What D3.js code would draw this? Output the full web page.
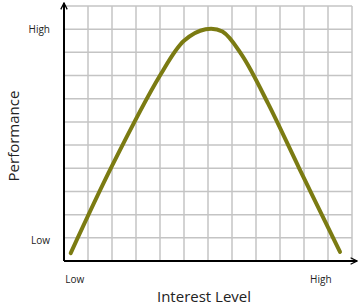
<!DOCTYPE html>
<html>
<head>
<meta charset="utf-8">
<script src="https://cdn.jsdelivr.net/npm/d3@7"></script>
<style>
  body { margin: 0; background: #fff; }
  text { font-family: "Open Sans", "Noto Sans", sans-serif; fill: #222; }
</style>
</head>
<body>
<div id="chart"></div>
<script>
// curve, in grid units (12 columns x 11 rows)
let curveX = [0.28, 2.0, 4.0, 5.0, 5.9, 6.6, 7.4, 8.5, 9.8, 11.5],
    curveY = [0.34, 4.1, 8.0, 9.5, 10.0, 9.9, 8.9, 6.8, 4.0, 0.39];

let xTickValues = [0.45, 10.7],
    xTickLabels = ["Low", "High"],
    yTickValues = [0.9, 10],
    yTickLabels = ["Low", "High"];

let width = 361, height = 306,
    margin = { top: 6, right: 9, bottom: 45, left: 64 },
    innerW = width - margin.left - margin.right,
    innerH = height - margin.top - margin.bottom;

let svg = d3.select("#chart").append("svg").attr("width", width).attr("height", height),
    g = svg.append("g").attr("transform", `translate(${margin.left},${margin.top})`);

let x = d3.scaleLinear().domain([0, 12]).range([0, innerW]),
    y = d3.scaleLinear().domain([0, 11]).range([innerH, 0]);

// grid
g.append("g")
    .selectAll("line")
    .data(d3.range(1, 13))
    .join("line")
    .attr("x1", d => x(d)).attr("x2", d => x(d))
    .attr("y1", 0).attr("y2", innerH)
    .attr("stroke", "#c4c4c4").attr("stroke-width", 1.5);

g.append("g")
    .selectAll("line")
    .data(d3.range(1, 12))
    .join("line")
    .attr("x1", 0).attr("x2", innerW)
    .attr("y1", d => y(d)).attr("y2", d => y(d))
    .attr("stroke", "#c4c4c4").attr("stroke-width", 1.5);

// arrow marker
svg.append("defs").append("marker")
    .attr("id", "arrow")
    .attr("viewBox", "0 0 10 10")
    .attr("refX", 9).attr("refY", 5)
    .attr("markerWidth", 8).attr("markerHeight", 8)
    .attr("markerUnits", "userSpaceOnUse")
    .attr("orient", "auto")
    .append("path")
    .attr("d", "M1,1 L9,5 L1,9")
    .attr("fill", "none")
    .attr("stroke", "#000")
    .attr("stroke-width", 1.6);

// axes
g.append("line")
    .attr("x1", 0).attr("y1", innerH)
    .attr("x2", innerW + 5).attr("y2", innerH)
    .attr("stroke", "#000").attr("stroke-width", 2)
    .attr("marker-end", "url(#arrow)");

g.append("line")
    .attr("x1", 0).attr("y1", innerH)
    .attr("x2", 0).attr("y2", -3)
    .attr("stroke", "#000").attr("stroke-width", 2)
    .attr("marker-end", "url(#arrow)");

// curve
let line = d3.line()
    .x(d => x(d[0]))
    .y(d => y(d[1]))
    .curve(d3.curveCatmullRom.alpha(0.5));

g.append("path")
    .datum(d3.zip(curveX, curveY))
    .attr("fill", "none")
    .attr("stroke", "#7b7b12")
    .attr("stroke-width", 4)
    .attr("stroke-linecap", "round")
    .attr("d", line);

// tick labels
g.append("g")
    .selectAll("text")
    .data(yTickValues)
    .join("text")
    .attr("x", -14)
    .attr("y", d => y(d))
    .attr("dy", "0.35em")
    .attr("text-anchor", "end")
    .style("font-size", "10px")
    .text((d, i) => yTickLabels[i]);

g.append("g")
    .selectAll("text")
    .data(xTickValues)
    .join("text")
    .attr("x", d => x(d))
    .attr("y", innerH + 22)
    .attr("text-anchor", "middle")
    .style("font-size", "10px")
    .text((d, i) => xTickLabels[i]);

// axis titles
svg.append("text")
    .attr("x", 204)
    .attr("y", 302)
    .attr("text-anchor", "middle")
    .style("font-size", "15px")
    .text("Interest Level");

svg.append("text")
    .attr("transform", "translate(19,136) rotate(-90)")
    .attr("text-anchor", "middle")
    .style("font-size", "15px")
    .text("Performance");
</script>
</body>
</html>
